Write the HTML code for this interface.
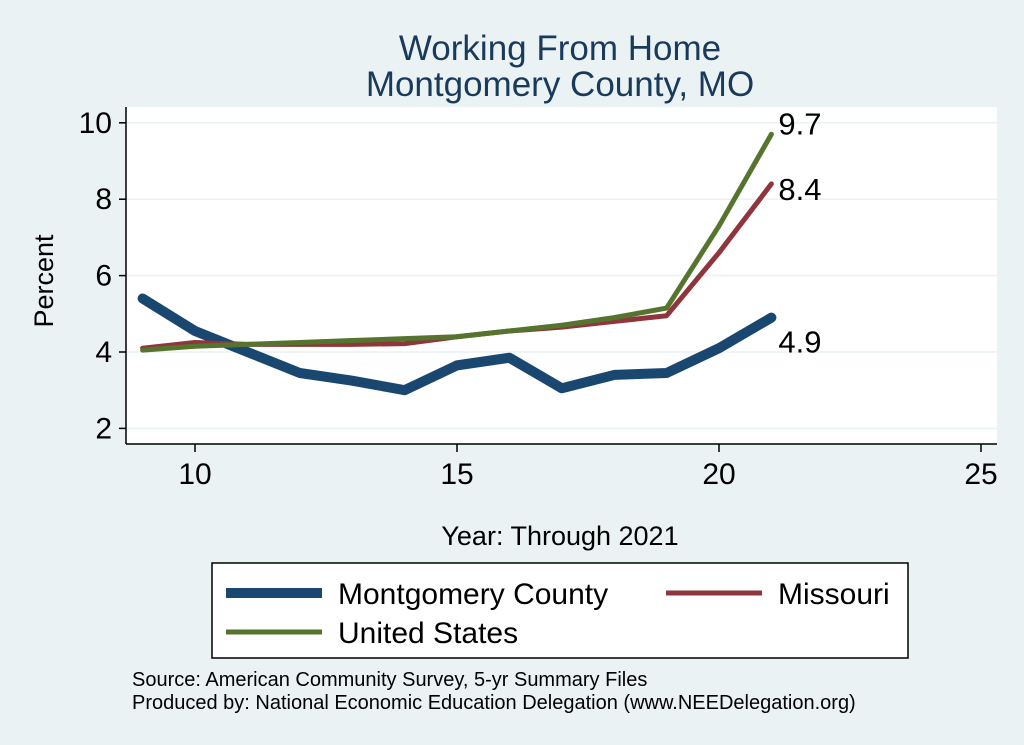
<!DOCTYPE html>
<html><head><meta charset="utf-8"><style>
body{margin:0;background:#eaf2f3;}
svg{display:block;font-family:"Liberation Sans",sans-serif;}
</style></head><body>
<svg id="chart" width="1024" height="745">
<rect width="1024" height="745" fill="#eaf2f3"/>
<text x="560" y="60" text-anchor="middle" font-size="35" fill="#1a3a5c">Working From Home</text>
<text x="560" y="96" text-anchor="middle" font-size="35" fill="#1a3a5c">Montgomery County, MO</text>
<rect x="126" y="107" width="871" height="337" fill="#fff"/>
<g id="grid"></g><g id="axes"></g><g id="lines"></g>
<text x="560" y="545" text-anchor="middle" font-size="27" fill="#000">Year: Through 2021</text>
<text transform="translate(53,281) rotate(-90)" text-anchor="middle" font-size="27" fill="#000">Percent</text>
<g>
<rect x="212" y="563" width="696" height="95" fill="#fff" stroke="#000" stroke-width="1.5"/>
<g><line x1="226" y1="593" x2="322" y2="593" stroke="#1a476f" stroke-width="10"/><text x="338" y="604" font-size="30">Montgomery County</text></g>
<g><line x1="666" y1="593" x2="762" y2="593" stroke="#90353b" stroke-width="5"/><text x="778" y="604" font-size="30">Missouri</text></g>
<g><line x1="226" y1="632" x2="322" y2="632" stroke="#55752f" stroke-width="5"/><text x="338" y="643" font-size="30">United States</text></g>
</g>
<text x="132" y="686" font-size="20">Source: American Community Survey, 5-yr Summary Files</text>
<text x="132" y="709" font-size="20">Produced by: National Economic Education Delegation (www.NEEDelegation.org)</text>
</svg>
<script>
const years=[9,10,11,12,13,14,15,16,17,18,19,20,21];
const montgomery=[5.4,4.55,4.0,3.45,3.25,3.0,3.65,3.85,3.05,3.4,3.45,4.1,4.9];
const missouri=[4.1,4.25,4.2,4.2,4.2,4.22,4.4,4.55,4.65,4.8,4.95,6.6,8.4];
const unitedStates=[4.05,4.15,4.2,4.25,4.3,4.35,4.4,4.55,4.7,4.9,5.15,7.3,9.7];
const xTicks=[10,15,20,25];
const yTicks=[2,4,6,8,10];
const NS="http://www.w3.org/2000/svg";
const xs=v=>195+(v-10)*52.4;
const ys=v=>352-(v-4)*38.2;
function mk(t,a,p){const e=document.createElementNS(NS,t);for(const k in a)e.setAttribute(k,a[k]);p.appendChild(e);return e;}
const grid=document.getElementById('grid'),axes=document.getElementById('axes'),lines=document.getElementById('lines');
mk('line',{x1:126,y1:107,x2:126,y2:444,stroke:'#000','stroke-width':1.5},axes);
mk('line',{x1:126,y1:444,x2:997,y2:444,stroke:'#000','stroke-width':1.5},axes);
yTicks.forEach(v=>{
 const g=mk('line',{x1:126,y1:ys(v),x2:997,y2:ys(v),stroke:'#eaf2f3','stroke-width':1.5},grid);
 
 
 mk('line',{x1:119,y1:ys(v),x2:126,y2:ys(v),stroke:'#000','stroke-width':1.5},axes);
 const t=mk('text',{x:112,y:ys(v)+10,'text-anchor':'end','font-size':30},axes);t.textContent=v;
 
 
});
xTicks.forEach(v=>{
 mk('line',{x1:xs(v),y1:444,x2:xs(v),y2:452,stroke:'#000','stroke-width':1.5},axes);
 const t=mk('text',{x:xs(v),y:484,'text-anchor':'middle','font-size':30},axes);t.textContent=v;
 
 
});
function series(vals,color,w,name,dy){
 const p=mk('polyline',{points:years.map((y,i)=>xs(y)+','+ys(vals[i])).join(' '),fill:'none',stroke:color,'stroke-width':w,'stroke-linejoin':'round','stroke-linecap':'round'},lines);
 
 
 const n=vals.length-1;
 const t=mk('text',{x:xs(years[n])+7,y:ys(vals[n])+dy,'font-size':31},lines);
 t.textContent=vals[n].toFixed(1);
 
 
}
series(montgomery,'#1a476f',10,'montgomery-line',35);
series(missouri,'#90353b',5,'missouri-line',16);
series(unitedStates,'#55752f',5,'united-states-line',0);
</script>
</body></html>
